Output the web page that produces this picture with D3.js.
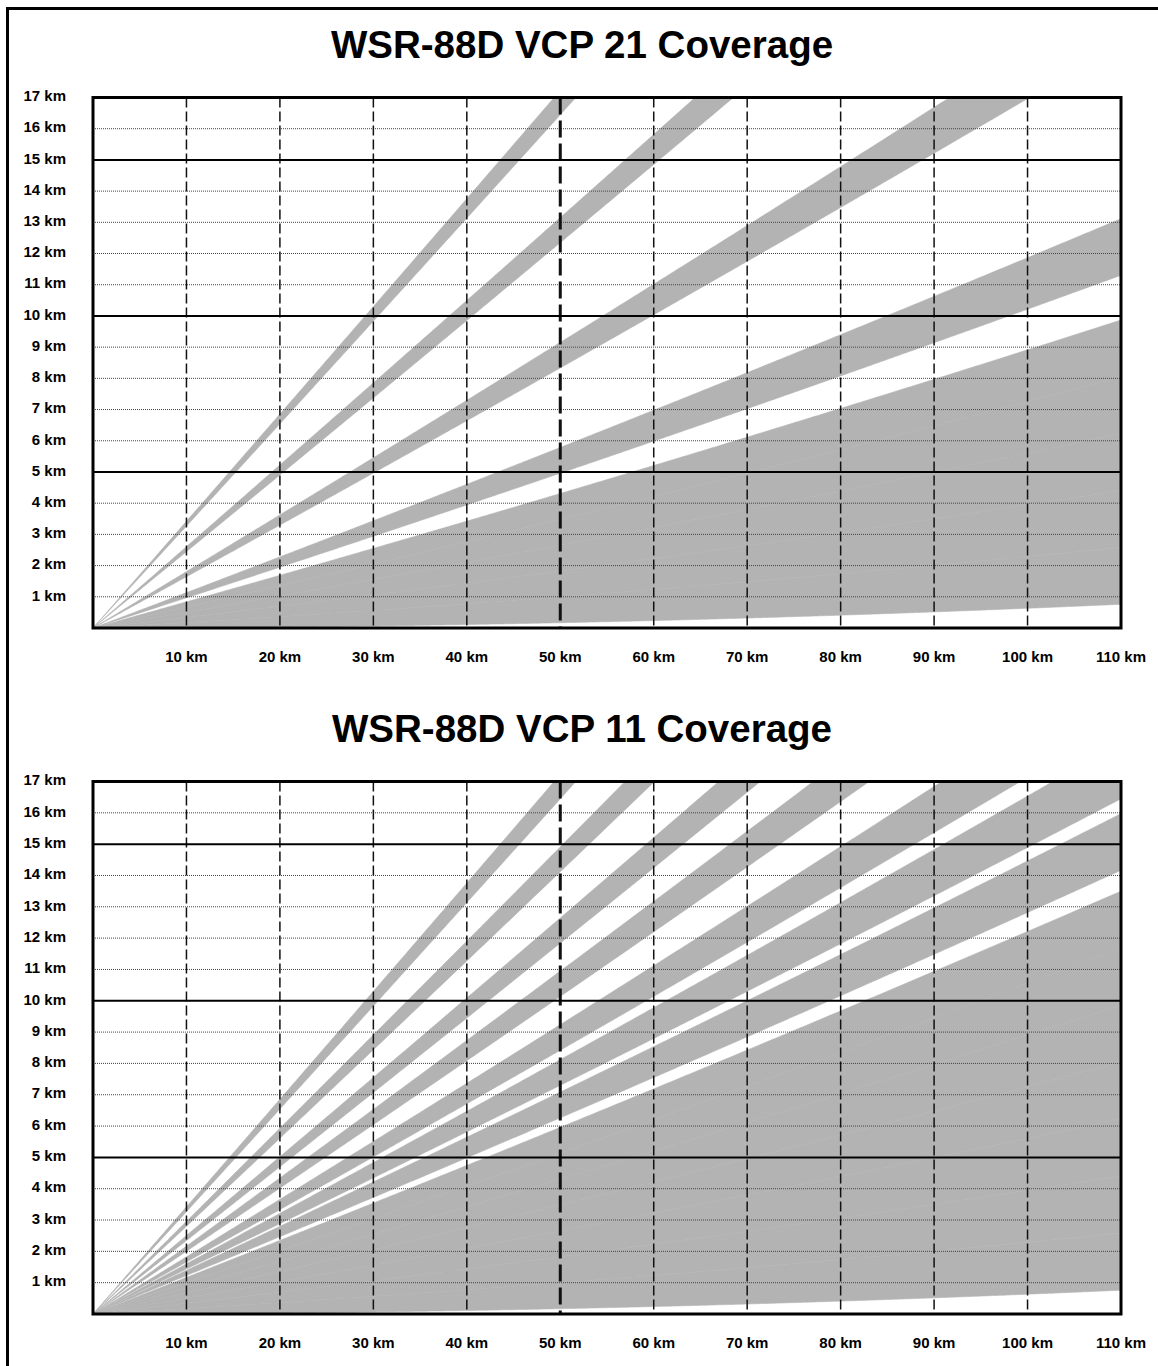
<!DOCTYPE html>
<html>
<head>
<meta charset="utf-8">
<script src="https://cdn.jsdelivr.net/npm/d3@7"></script>
<style>
  body { margin: 0; background: #fff; }
  svg { display: block; }
</style>
</head>
<body>
<script>
const svgW = 1158;
const svgH = 1366;

// elevation angles (deg) of each volume coverage pattern
const vcp21Elev = [0.5, 1.45, 2.4, 3.35, 4.3, 6.0, 9.9, 14.6, 19.5];
const vcp11Elev = [0.5, 1.45, 2.4, 3.35, 4.3, 5.25, 6.2, 7.5, 8.7, 10.0, 12.0, 14.0, 16.7, 19.5];
const beamWidth = 0.95; // deg
const titles = ['WSR-88D VCP 21 Coverage', 'WSR-88D VCP 11 Coverage'];
const xTicks = [10, 20, 30, 40, 50, 60, 70, 80, 90, 100, 110]; // km
const yTicks = [1, 2, 3, 4, 5, 6, 7, 8, 9, 10, 11, 12, 13, 14, 15, 16, 17]; // km
const xMax = 110;
const yMax = 17;

const effRadius = 6371 * 4 / 3; // 4/3 earth model

const svg = d3.select('body')
              .append('svg')
              .attr('width', svgW)
              .attr('height', svgH);

// outer frame (only left/top edges are in view)
svg.append('rect')
   .attr('x', 7.5).attr('y', 8.5)
   .attr('width', svgW + 20).attr('height', svgH + 20)
   .attr('fill', 'none').attr('stroke', '#000').attr('stroke-width', 3);

function beamHeight(r, elev) {
  const a = elev * Math.PI / 180;
  return r * Math.sin(a) + r * r / (2 * effRadius);
}

const panels = [
  { title: titles[0], elev: vcp21Elev, top: 97.5, bottom: 628 },
  { title: titles[1], elev: vcp11Elev, top: 781.5, bottom: 1314 }
];

const left = 93;
const right = 1121;
const samples = d3.range(0, xMax + 0.25, 0.25);

panels.forEach((p, pi) => {
  const x = d3.scaleLinear().domain([0, xMax]).range([left, right]);
  const y = d3.scaleLinear().domain([0, yMax]).range([p.bottom, p.top]);
  const g = svg.append('g');

  g.append('text')
   .attr('x', 582).attr('y', p.top - 39.5)
   .attr('text-anchor', 'middle')
   .attr('font-family', 'Liberation Sans, Arial, sans-serif')
   .attr('font-weight', 'bold')
   .attr('font-size', 38.5)
   .text(p.title);

  const clipId = 'clip' + pi;
  g.append('clipPath').attr('id', clipId)
   .append('rect')
   .attr('x', left).attr('y', p.top)
   .attr('width', right - left).attr('height', p.bottom - p.top);

  const area = d3.area()
                 .x(d => x(d.r))
                 .y0(d => y(d.lo))
                 .y1(d => y(d.hi));

  const beams = g.append('g').attr('clip-path', `url(#${clipId})`);
  beams.selectAll('path')
       .data(p.elev)
       .enter()
       .append('path')
       .attr('d', e => area(samples.map(r => ({
         r: r,
         lo: beamHeight(r, e - beamWidth / 2),
         hi: beamHeight(r, e + beamWidth / 2)
       }))))
       .attr('fill', '#b3b3b3')
       .attr('stroke', '#b3b3b3')
       .attr('stroke-width', 0.6);

  // horizontal grid
  const hMinor = yTicks.filter(k => k < yMax && k % 5 !== 0);
  const hMajor = yTicks.filter(k => k < yMax && k % 5 === 0);
  g.selectAll('.hminor')
   .data(hMinor).enter().append('line')
   .attr('x1', left).attr('x2', right)
   .attr('y1', d => y(d)).attr('y2', d => y(d))
   .attr('stroke', '#444').attr('stroke-width', 1)
   .attr('stroke-dasharray', '1,1');

  // vertical dashed grid
  g.selectAll('.vgrid')
   .data(xTicks.filter(k => k < xMax)).enter().append('line')
   .attr('x1', d => x(d)).attr('x2', d => x(d))
   .attr('y1', p.top).attr('y2', p.bottom)
   .attr('stroke', '#111')
   .attr('stroke-width', d => d === 50 ? 3 : 1.5)
   .attr('stroke-dasharray', d => d === 50 ? '17,6' : '10,4');

  g.selectAll('.hmajor')
   .data(hMajor).enter().append('line')
   .attr('x1', left).attr('x2', right)
   .attr('y1', d => y(d)).attr('y2', d => y(d))
   .attr('stroke', '#000').attr('stroke-width', 2);

  g.append('rect')
   .attr('x', left).attr('y', p.top)
   .attr('width', right - left).attr('height', p.bottom - p.top)
   .attr('fill', 'none').attr('stroke', '#000').attr('stroke-width', 3);

  // tick labels
  g.selectAll('.ylab')
   .data(yTicks).enter().append('text')
   .attr('x', 66).attr('y', d => y(d) - 1.5)
   .attr('dy', '0.35em')
   .attr('text-anchor', 'end')
   .attr('font-family', 'Liberation Sans, Arial, sans-serif')
   .attr('font-weight', 'bold').attr('font-size', 15)
   .text(d => `${d} km`);

  g.selectAll('.xlab')
   .data(xTicks).enter().append('text')
   .attr('x', d => x(d)).attr('y', p.bottom + 29)
   .attr('dy', '0.35em')
   .attr('text-anchor', 'middle')
   .attr('font-family', 'Liberation Sans, Arial, sans-serif')
   .attr('font-weight', 'bold').attr('font-size', 15)
   .text(d => `${d} km`);
});
</script>
</body>
</html>
